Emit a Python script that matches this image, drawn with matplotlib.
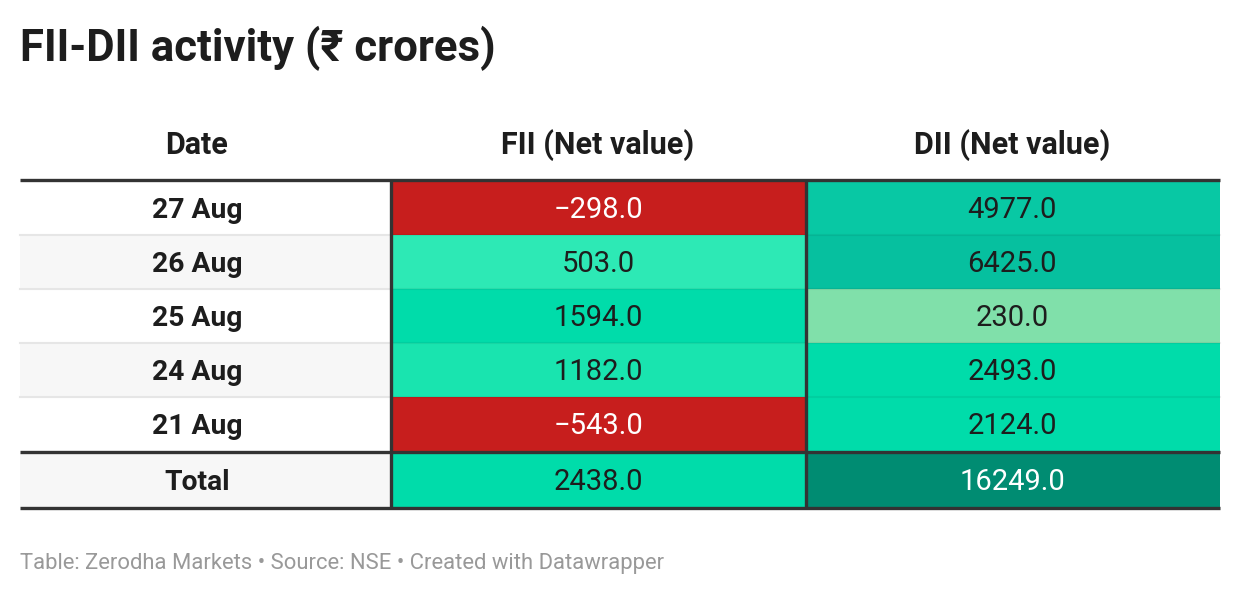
import matplotlib.pyplot as plt
from matplotlib.patches import Rectangle

plt.rcParams['font.family'] = ['Roboto', 'DejaVu Sans']

# data
dates = ["27 Aug", "26 Aug", "25 Aug", "24 Aug", "21 Aug", "Total"]
fii = [-298.0, 503.0, 1594.0, 1182.0, -543.0, 2438.0]
dii = [4977.0, 6425.0, 230.0, 2493.0, 2124.0, 16249.0]
headers = ["Date", "FII (Net value)", "DII (Net value)"]

fii_colors = ["#c71e1d", "#2de9b5", "#00dcaa", "#19e4af", "#c71e1d", "#00dcaa"]
dii_colors = ["#08c8a4", "#06c09f", "#80e0aa", "#00dcaa", "#00dcaa", "#008c72"]

W, H = 1240, 596
fig = plt.figure(figsize=(W / 100, H / 100), dpi=100)
ax = fig.add_axes([0, 0, 1, 1])
ax.set_xlim(0, W)
ax.set_ylim(H, 0)
ax.axis("off")

# layout (pixels)
left, right = 20, 1220
col_x = [20, 391, 806, 1220]
text_x = [197, 598, 1012]
row_top = [181, 235, 289, 343, 397, 453]
row_bot = [235, 289, 343, 397, 451, 507]

ax.text(20, 48, "FII-DII activity (₹ crores)", fontsize=31.5, fontweight="bold",
        color="#1d1d1d", va="center", ha="left")

for j, h in enumerate(headers):
    ax.text(text_x[j], 145, h, fontsize=22, fontweight="bold", color="#1d1d1d",
            ha="center", va="center")

def text_color(c):
    return "#ffffff" if c in ("#c71e1d", "#008c72") else "#1d1d1d"

def fmt(v):
    s = f"{abs(v):.1f}"
    return ("\u2212" + s) if v < 0 else s

for i, d in enumerate(dates):
    y0, y1 = row_top[i], row_bot[i]
    cy = (y0 + y1) / 2 + 2.5
    bg = "#ffffff" if i % 2 == 0 else "#f7f7f7"
    ax.add_patch(Rectangle((col_x[0], y0), col_x[1] - col_x[0], y1 - y0,
                           facecolor=bg, edgecolor="none"))
    ax.add_patch(Rectangle((col_x[1], y0), col_x[2] - col_x[1], y1 - y0,
                           facecolor=fii_colors[i], edgecolor="none"))
    ax.add_patch(Rectangle((col_x[2], y0), col_x[3] - col_x[2], y1 - y0,
                           facecolor=dii_colors[i], edgecolor="none"))
    ax.text(text_x[0], cy, d, fontsize=20.3, fontweight="bold",
            color="#1d1d1d", ha="center", va="center")
    ax.text(text_x[1], cy, fmt(fii[i]), fontsize=21,
            color=text_color(fii_colors[i]), ha="center", va="center")
    ax.text(text_x[2], cy, fmt(dii[i]), fontsize=21,
            color=text_color(dii_colors[i]), ha="center", va="center")
    # thin row separators
    if 0 < i < 5:
        ax.plot([col_x[0], col_x[1]], [y0, y0], color="#e6e6e6", lw=1.5)
        ax.plot([col_x[1], col_x[3]], [y0, y0], color="#000000", alpha=0.06, lw=1.5)

# heavy rules
for y in (180, 452, 508):
    ax.plot([left, right], [y, y], color="#333333", lw=2.4, solid_capstyle="butt")
for x in (col_x[1], col_x[2]):
    ax.plot([x, x], [181, 507], color="#333333", lw=2.4, solid_capstyle="butt")

ax.text(20, 564, "Table: Zerodha Markets \u2022 Source: NSE \u2022 Created with Datawrapper",
        fontsize=15.8, color="#999999", ha="left", va="center")

fig.savefig("out.png", dpi=100)
